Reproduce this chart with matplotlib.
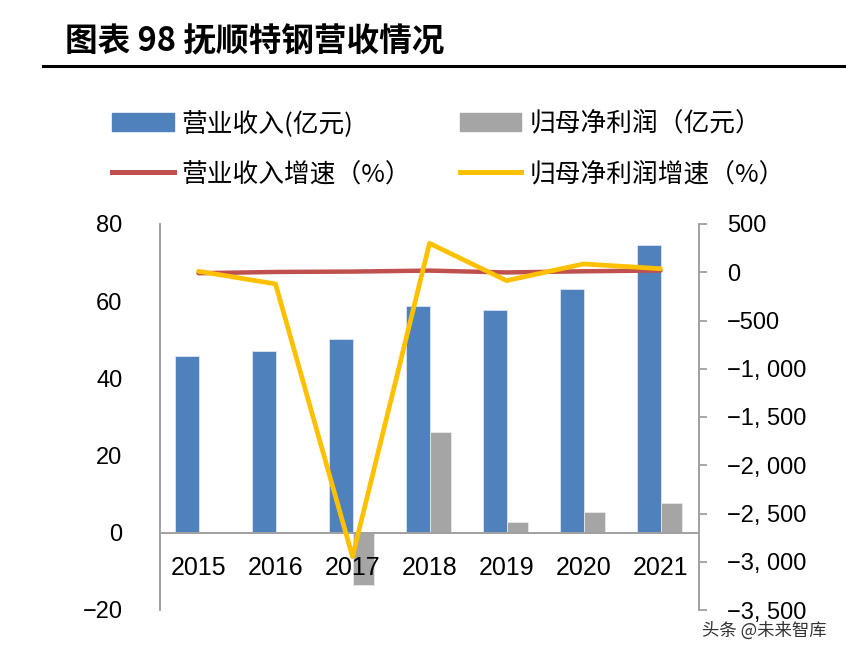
import numpy as np
import matplotlib.pyplot as plt
from matplotlib.patches import Patch
from matplotlib.lines import Line2D
from matplotlib.ticker import FuncFormatter, MultipleLocator

plt.rcParams['font.family'] = ['Liberation Sans', 'Noto Sans CJK SC', 'DejaVu Sans']

# data
years = ["2015", "2016", "2017", "2018", "2019", "2020", "2021"]
revenue = [45.9, 47.2, 50.3, 58.8, 57.8, 63.1, 74.6]          # 营业收入(亿元)
net_profit = [0.3, -0.1, -13.4, 26.0, 2.9, 5.4, 7.7]          # 归母净利润(亿元)
revenue_growth = [-10, 3, 7, 17, -2, 10, 18]                  # 营业收入增速(%)
profit_growth = [10, -121, -2947, 300, -87, 86, 37]           # 归母净利润增速(%)

blue = "#4F81BD"
gray = "#A5A5A5"
red = "#C0504D"
yellow = "#FFC000"
spine_c = "#A0A0A0"
cjk = ['Noto Sans CJK SC', 'DejaVu Sans']

fig = plt.figure(figsize=(8.46, 6.61), dpi=100)
ax = fig.add_axes([160 / 846, 1 - 610 / 661, 539 / 846, 386 / 661])
ax.spines["bottom"].set_position(("data", 0))
ax2 = ax.twinx()

x = np.arange(len(years))
ax.bar(x - 0.15, revenue, width=0.32, color=blue, edgecolor="#DCE6F2", linewidth=0.6)
ax.bar(x + 0.145, net_profit, width=0.28, color=gray, edgecolor="#E8E8E8", linewidth=0.6)

ax2.plot(x, revenue_growth, color=red, lw=3.2, solid_capstyle="round")
ax2.plot(x, profit_growth, color=yellow, lw=3.4, solid_capstyle="round")

ax.set_xlim(-0.5, len(years) - 0.5)
ax.set_ylim(-20, 80)
ax2.set_ylim(-3500, 500)
ax.yaxis.set_major_locator(MultipleLocator(20))
ax2.yaxis.set_major_locator(MultipleLocator(500))

ax.set_xticks(x, years)
ax.tick_params(axis="x", length=0, pad=17, labelsize=18)
ax.tick_params(axis="y", length=0, pad=27, labelsize=17)


def fmt_right(v, pos):
    s = f"{abs(v):,.0f}".replace(",", ", ")
    return ("\u2212" + s) if v < 0 else s


def fmt_left(v, pos):
    return ("\u2212" + f"{abs(v):.0f}") if v < 0 else f"{v:.0f}"


ax.yaxis.set_major_formatter(FuncFormatter(fmt_left))
ax2.yaxis.set_major_formatter(FuncFormatter(fmt_right))
ax2.tick_params(axis="y", length=6, width=1.3, color=spine_c, pad=14, labelsize=17)

for a in (ax, ax2):
    a.spines["top"].set_visible(False)
    for s in ("left", "right", "bottom"):
        a.spines[s].set_color(spine_c)
        a.spines[s].set_linewidth(1.4)
ax.spines["right"].set_visible(False)
ax2.spines["left"].set_visible(False)
ax2.spines["bottom"].set_visible(False)

# title and rule
fig.text(65 / 846, 1 - 42 / 661, "图表 98 抚顺特钢营收情况", family=cjk,
         fontsize=23.5, fontweight="bold", va="center", ha="left")
fig.add_artist(Line2D([43 / 846, 1], [1 - 66 / 661] * 2, color="black", lw=2.2))

# legend
handles = [
    Patch(facecolor=blue, edgecolor=blue),
    Line2D([], [], color=red, lw=3.6),
    Patch(facecolor=gray, edgecolor=gray),
    Line2D([], [], color=yellow, lw=3.6),
]
labels = ["营业收入(亿元)", "营业收入增速（%）", "归母净利润（亿元）", "归母净利润增速（%）"]
fig.legend(handles, labels, ncol=2, loc="upper left",
           bbox_to_anchor=(112 / 846, 1 - 110 / 661), frameon=False,
           prop={"family": cjk, "size": 18.5}, handlelength=2.4,
           handletextpad=0.3, columnspacing=1.9, labelspacing=0.95,
           borderpad=0, borderaxespad=0)

fig.text(827 / 846, 1 - 631 / 661, "头条 @未来智库", family=cjk, fontsize=12.5,
         color="#333333", ha="right", va="center")

fig.savefig("out.png", dpi=100)
